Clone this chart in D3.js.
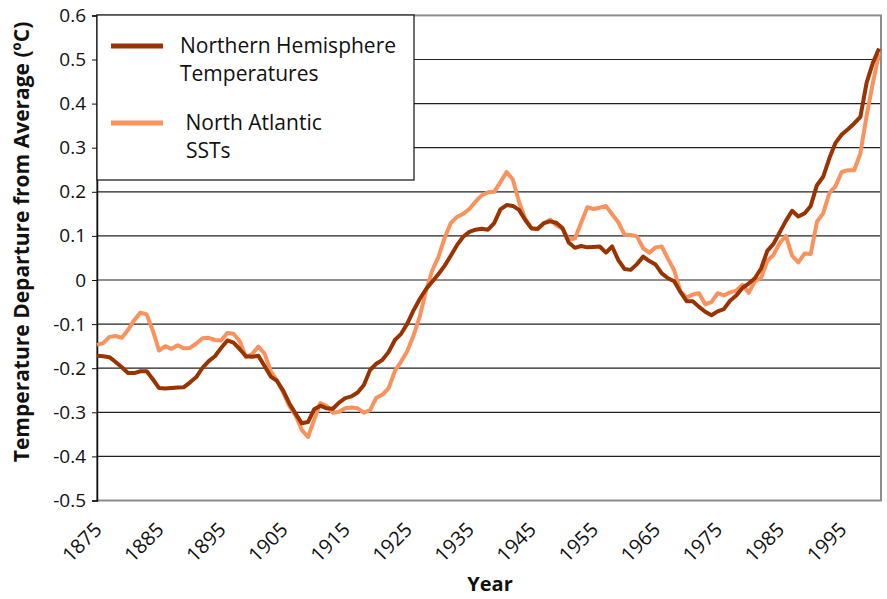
<!DOCTYPE html>
<html>
<head>
<meta charset="utf-8">
<script src="https://cdn.jsdelivr.net/npm/d3@7"></script>
<style>
  body { margin: 0; background: #fff; }
  text { font-family: "Open Sans", "Noto Sans", sans-serif; fill: #111; }
</style>
</head>
<body>
<div id="vis"></div>
<script>
var width = 887,
    height = 599;

// years 1875 - 2001
var startYear = 1875;

var nhTemps = [
  -0.172, -0.173, -0.175, -0.186, -0.198, -0.211, -0.211, -0.207, -0.207, -0.225,
  -0.245, -0.246, -0.245, -0.244, -0.243, -0.232, -0.220, -0.199, -0.184, -0.173,
  -0.154, -0.137, -0.142, -0.157, -0.173, -0.174, -0.172, -0.195, -0.219, -0.229,
  -0.251, -0.280, -0.303, -0.325, -0.322, -0.293, -0.285, -0.291, -0.292, -0.278,
  -0.268, -0.264, -0.255, -0.238, -0.204, -0.190, -0.181, -0.163, -0.136, -0.122,
  -0.099, -0.069, -0.043, -0.021, -0.004, 0.013, 0.032, 0.055, 0.079, 0.098,
  0.109, 0.114, 0.116, 0.114, 0.129, 0.160, 0.170, 0.168, 0.159, 0.136,
  0.117, 0.116, 0.129, 0.133, 0.130, 0.118, 0.085, 0.073, 0.077, 0.074,
  0.075, 0.076, 0.062, 0.076, 0.045, 0.025, 0.023, 0.036, 0.053, 0.043,
  0.035, 0.015, 0.004, -0.003, -0.027, -0.048, -0.048, -0.061, -0.072, -0.080,
  -0.071, -0.066, -0.047, -0.035, -0.018, -0.008, 0.004, 0.026, 0.066, 0.082,
  0.108, 0.134, 0.157, 0.144, 0.151, 0.168, 0.215, 0.234, 0.276, 0.311,
  0.330, 0.342, 0.355, 0.370, 0.447, 0.492, 0.525
];

var atlanticSst = [
  -0.147, -0.143, -0.129, -0.127, -0.131, -0.113, -0.091, -0.074, -0.078, -0.115,
  -0.160, -0.150, -0.156, -0.148, -0.155, -0.154, -0.144, -0.132, -0.131, -0.136,
  -0.137, -0.120, -0.122, -0.139, -0.175, -0.168, -0.151, -0.167, -0.207, -0.228,
  -0.255, -0.286, -0.307, -0.340, -0.356, -0.316, -0.279, -0.286, -0.301, -0.299,
  -0.291, -0.289, -0.291, -0.301, -0.295, -0.267, -0.260, -0.245, -0.206, -0.185,
  -0.161, -0.126, -0.083, -0.025, 0.021, 0.052, 0.095, 0.129, 0.143, 0.150,
  0.161, 0.178, 0.192, 0.199, 0.200, 0.222, 0.245, 0.228, 0.177, 0.139,
  0.118, 0.115, 0.128, 0.137, 0.124, 0.116, 0.092, 0.094, 0.129, 0.165,
  0.161, 0.164, 0.168, 0.149, 0.131, 0.103, 0.102, 0.099, 0.072, 0.062,
  0.074, 0.076, 0.048, 0.022, -0.026, -0.040, -0.033, -0.030, -0.055, -0.050,
  -0.030, -0.035, -0.028, -0.024, -0.011, -0.029, -0.003, 0.005, 0.043, 0.057,
  0.084, 0.100, 0.055, 0.040, 0.060, 0.059, 0.132, 0.151, 0.197, 0.213,
  0.245, 0.249, 0.249, 0.287, 0.372, 0.446, 0.514
];

var yearTicks = [1875, 1885, 1895, 1905, 1915, 1925, 1935, 1945, 1955, 1965, 1975, 1985, 1995];
var valueTicks = [-0.5, -0.4, -0.3, -0.2, -0.1, 0, 0.1, 0.2, 0.3, 0.4, 0.5, 0.6];

var seriesNames = [["Northern Hemisphere", "Temperatures"], [" North Atlantic", "SSTs"]];
var seriesColors = ["#993300", "#f9925c"];

var svg = d3.select("#vis").append("svg")
    .attr("width", width)
    .attr("height", height);

var plotLeft = 97, plotRight = 881, plotTop = 15.4, plotBottom = 500.5;

var x = d3.scaleLinear()
    .domain([startYear, 2001])
    .range([plotLeft, 879]);

var y = d3.scaleLinear()
    .domain([-0.5, 0.6])
    .range([plotBottom, plotTop]);

// gridlines
svg.append("g")
    .selectAll("line")
    .data(valueTicks.slice(1, -1))
    .enter().append("line")
      .attr("x1", plotLeft)
      .attr("x2", plotRight)
      .attr("y1", function(d) { return y(d); })
      .attr("y2", function(d) { return y(d); })
      .attr("stroke", "#222")
      .attr("stroke-width", 1.2);

// frame
svg.append("rect")
    .attr("x", plotLeft)
    .attr("y", plotTop)
    .attr("width", plotRight - plotLeft)
    .attr("height", plotBottom - plotTop)
    .attr("fill", "none")
    .attr("stroke", "#8c8c8c")
    .attr("stroke-width", 2);

// y axis
var yAxis = d3.axisLeft(y)
    .tickValues(valueTicks)
    .tickSize(5)
    .tickPadding(6)
    .tickFormat(function(d) { return d === 0 ? "0" : d.toFixed(1); });

var yg = svg.append("g")
    .attr("transform", "translate(" + plotLeft + ",0)")
    .call(yAxis);
yg.select(".domain").attr("stroke", "#111").attr("stroke-width", 1.5);
yg.selectAll(".tick line").attr("stroke", "#111");
yg.selectAll("text")
    .style("font-family", "'Open Sans', sans-serif")
    .style("font-size", "19px")
    .attr("fill", "#111");

// x labels
svg.append("g")
    .selectAll("text")
    .data(yearTicks)
    .enter().append("text")
      .attr("transform", function(d) {
        return "translate(" + (x(d) + 6) + ",531) rotate(-45)";
      })
      .attr("text-anchor", "end")
      .style("font-size", "20px")
      .text(function(d) { return d; });

// lines
var line = d3.line()
    .x(function(d, i) { return x(startYear + i); })
    .y(function(d) { return y(d); });

[atlanticSst, nhTemps].forEach(function(vals, k) {
  svg.append("path")
      .datum(vals)
      .attr("fill", "none")
      .attr("stroke", seriesColors[1 - k])
      .attr("stroke-width", 4)
      .attr("stroke-linejoin", "round")
      .attr("d", line);
});

// legend
var legend = svg.append("g");
legend.append("rect")
    .attr("x", 97)
    .attr("y", 15)
    .attr("width", 317)
    .attr("height", 165)
    .attr("fill", "#fff")
    .attr("stroke", "#111")
    .attr("stroke-width", 1.2);

seriesNames.forEach(function(name, i) {
  var ly = 46 + i * 77;
  legend.append("line")
      .attr("x1", 111)
      .attr("x2", 163)
      .attr("y1", ly)
      .attr("y2", ly)
      .attr("stroke", seriesColors[i])
      .attr("stroke-width", 5);
  legend.append("text")
      .attr("x", 180)
      .attr("y", ly + 7)
      .attr("xml:space", "preserve")
      .style("font-size", "21px")
      .text(name[0]);
  legend.append("text")
      .attr("x", i === 0 ? 180 : 186)
      .attr("y", ly + 35)
      .style("font-size", "21px")
      .text(name[1]);
});

// axis titles
svg.append("text")
    .attr("transform", "translate(29,242) rotate(-90)")
    .attr("text-anchor", "middle")
    .style("font-size", "21px")
    .style("font-weight", "bold")
    .text("Temperature Departure from Average (ºC)");

svg.append("text")
    .attr("x", 490)
    .attr("y", 591)
    .attr("text-anchor", "middle")
    .style("font-size", "20px")
    .style("font-weight", "bold")
    .text("Year");
</script>
</body>
</html>
